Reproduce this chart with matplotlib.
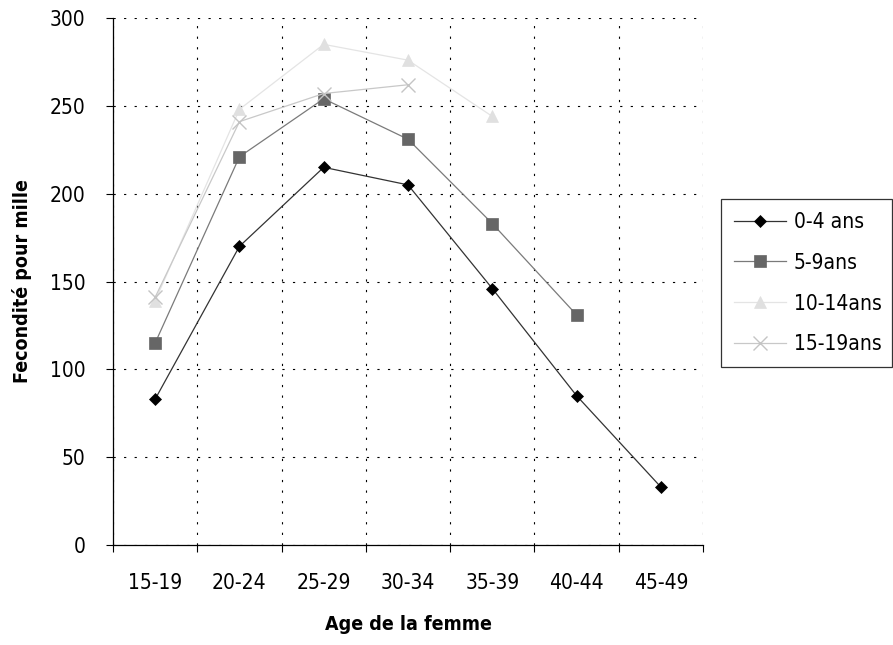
import matplotlib
matplotlib.use('Agg')
import matplotlib.pyplot as plt
from matplotlib.ticker import MultipleLocator, FixedLocator

# police étroite proche de l'original
plt.rcParams['font.family'] = ['DejaVu Sans']
plt.rcParams['font.stretch'] = 'condensed'

ages = ['15-19', '20-24', '25-29', '30-34', '35-39', '40-44', '45-49']
ans_0_4 = [83, 170, 215, 205, 146, 85, 33]
ans_5_9 = [115, 221, 254, 231, 183, 131]
ans_10_14 = [139, 248, 285, 276, 244]
ans_15_19 = [141, 241, 257, 262]

series = [
    ('0-4 ans', ans_0_4, 'D', 5.8, '#000000', '#333333'),
    ('5-9ans', ans_5_9, 's', 8.6, '#666666', '#7a7a7a'),
    ('10-14ans', ans_10_14, '^', 9, '#e0e0e0', '#e4e4e4'),
    ('15-19ans', ans_15_19, 'x', 9.5, '#c4c4c4', '#c8c8c8'),
]

fig = plt.figure(figsize=(8.93, 6.45), dpi=100)
ax = fig.add_axes([113 / 893, 100 / 645, 590 / 893, 527 / 645])

for name, vals, mk, ms, mc, lc in series:
    ax.plot(range(len(vals)), vals, color=lc, lw=0.9, marker=mk, markersize=ms,
            markerfacecolor=mc, markeredgecolor=mc, markeredgewidth=1 if mk == 'x' else 0.5,
            label=name, clip_on=False)

ax.set_xlim(-0.5, len(ages) - 0.5)
ax.set_ylim(0, 300)
ax.set_xticks(range(len(ages)))
ax.set_xticklabels(ages)
ax.xaxis.set_minor_locator(FixedLocator([i - 0.5 for i in range(len(ages) + 1)]))
ax.yaxis.set_major_locator(MultipleLocator(50))

ax.tick_params(axis='x', which='major', length=0, pad=20, labelsize=15)
ax.tick_params(axis='x', which='minor', length=5, direction='out', width=0.8)
ax.tick_params(axis='y', length=5, direction='out', width=0.8, pad=15, labelsize=15)

dots = (0, (2, 7.5))
ax.grid(True, axis='x', which='minor', color='#000000', lw=0.8, linestyle=dots)
ax.grid(True, axis='y', which='major', color='#000000', lw=0.8, linestyle=dots)

for s in ['top', 'right']:
    ax.spines[s].set_visible(False)
for s in ['left', 'bottom']:
    ax.spines[s].set_linewidth(0.9)

ax.set_xlabel('Age de la femme', fontsize=14, fontweight='bold', va='center')
ax.set_ylabel('Fecondité pour mille', fontsize=14, fontweight='bold', va='center')
ax.xaxis.set_label_coords(0.5, (545 - 625) / 527)
ax.yaxis.set_label_coords((22.5 - 113) / 590, 0.5)

leg = fig.legend(loc='upper left', bbox_to_anchor=(721 / 893, 1 - 199 / 645, 171 / 893, 0),
                 mode='expand', fontsize=15, frameon=True, fancybox=False,
                 handlelength=2.5, labelspacing=1.0, borderpad=0.62,
                 handletextpad=0.38, borderaxespad=0)
leg.get_frame().set_edgecolor('#000000')
leg.get_frame().set_linewidth(0.9)

fig.savefig('out.png', dpi=100)
